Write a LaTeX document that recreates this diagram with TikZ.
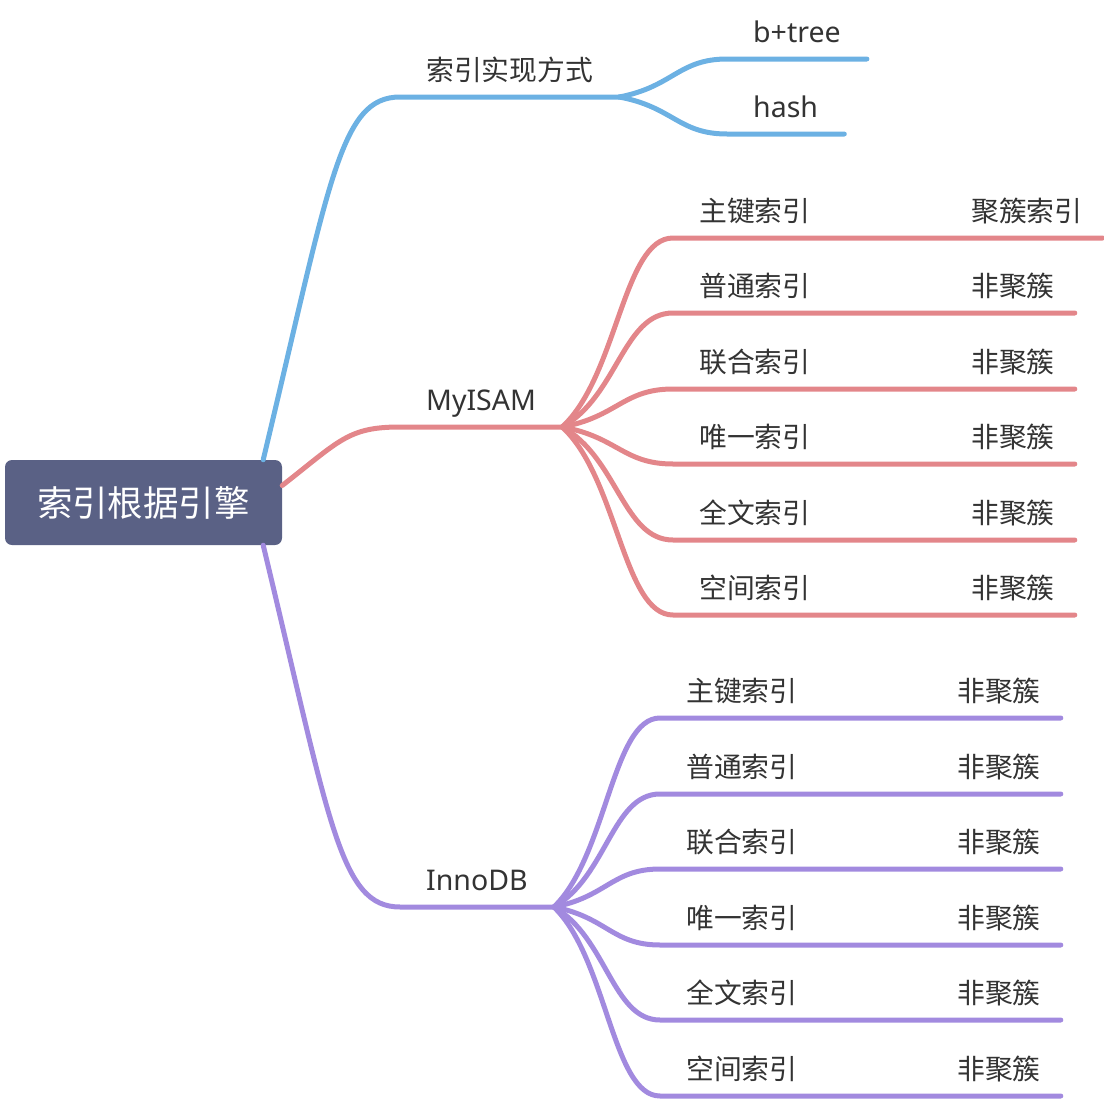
\documentclass[tikz,border=0pt]{standalone}
\usepackage{fontspec}
\setmainfont{Noto Sans CJK SC}
\newfontfamily\latinfont{Noto Sans}
\usetikzlibrary{calc}
\definecolor{rootfill}{HTML}{5A6185}
\definecolor{implblue}{HTML}{6CB1E3}
\definecolor{myred}{HTML}{E3868A}
\definecolor{innopurple}{HTML}{A28ADF}
\definecolor{labeltext}{HTML}{333333}

\begin{document}
\begin{tikzpicture}[
    x=1pt,y=-1pt,
    font=\fontsize{27.8}{32}\selectfont,
    rootbox/.style={rectangle,rounded corners=7pt,fill=rootfill,text=white,minimum width=277pt,minimum height=85pt,font=\fontsize{35.5}{40}\selectfont},
    topic/.style={anchor=south west,inner xsep=26pt,inner ysep=16pt,text depth=0pt,text=labeltext},
    latin/.style={topic,font=\fontsize{28.5}{32}\latinfont},
    leaf/.style={topic,inner xsep=20pt},
    link/.style={line width=5pt,line cap=round},
    swoop/.style={to path={let \p1=(\tikztostart),\p2=(\tikztotarget) in .. controls ({\x1+0.49*(\x2-\x1)},{\y1+0.77*(\y2-\y1)}) and ({\x2-0.44*(\x2-\x1)},\y2) .. (\tikztotarget)}},
    fan/.style={to path={let \p1=(\tikztostart),\p2=(\tikztotarget) in .. controls ({\x1+0.5*(\x2-\x1)},{\y1+0.27*(\y2-\y1)}) and ({\x2-0.45*(\x2-\x1)},\y2) .. (\tikztotarget)}}
  ]
  \useasboundingbox (0,0) rectangle (1104,1100);

  \node(root) [rootbox] at (143.5,502.5) {索引根据引擎};
  \coordinate(rt) at ([xshift=-19pt]root.north east);
  \coordinate(rr) at ([yshift=17pt]root.east);
  \coordinate(rb) at ([xshift=-19pt]root.south east);

  \node(impl) [topic] at (400,97) {索引实现方式};
  \node(bt) [latin] at (727,59) {b+tree};
  \node(hs) [latin] at (727,134) {hash};

  \node(my) [latin] at (400,427) {MyISAM};
  \node(m1) [topic] at (673,238) {主键索引};
  \node(m2) [topic] at (673,313) {普通索引};
  \node(m3) [topic] at (673,389) {联合索引};
  \node(m4) [topic] at (673,464) {唯一索引};
  \node(m5) [topic] at (673,540) {全文索引};
  \node(m6) [topic] at (673,615) {空间索引};
  \node(c1) [leaf] at (951,238) {聚簇索引};
  \node(c2) [leaf] at (951,313) {非聚簇};
  \node(c3) [leaf] at (951,389) {非聚簇};
  \node(c4) [leaf] at (951,464) {非聚簇};
  \node(c5) [leaf] at (951,540) {非聚簇};
  \node(c6) [leaf] at (951,615) {非聚簇};

  \node(inno) [latin] at (400,907) {InnoDB};
  \node(i1) [topic] at (660,718) {主键索引};
  \node(i2) [topic] at (660,794) {普通索引};
  \node(i3) [topic] at (660,869) {联合索引};
  \node(i4) [topic] at (660,945) {唯一索引};
  \node(i5) [topic] at (660,1020) {全文索引};
  \node(i6) [topic] at (660,1096) {空间索引};
  \node(d1) [leaf] at (937,718) {非聚簇};
  \node(d2) [leaf] at (937,794) {非聚簇};
  \node(d3) [leaf] at (937,869) {非聚簇};
  \node(d4) [leaf] at (937,945) {非聚簇};
  \node(d5) [leaf] at (937,1020) {非聚簇};
  \node(d6) [leaf] at (937,1096) {非聚簇};

  \draw[link,implblue] (rt) to[swoop] (impl.south west) -- (impl.south east);
  \draw[link,implblue] (impl.south east) to[fan] (bt.south west) -- (bt.south east);
  \draw[link,implblue] (impl.south east) to[fan] (hs.south west) -- (hs.south east);

  \draw[link,myred] (rr) to[swoop] (my.south west) -- (my.south east);
  \draw[link,myred] (my.south east) to[fan] (m1.south west) -- (m1.south east) -- (c1.south west) -- (c1.south east);
  \draw[link,myred] (my.south east) to[fan] (m2.south west) -- (m2.south east) -- (c2.south west) -- (c2.south east);
  \draw[link,myred] (my.south east) to[fan] (m3.south west) -- (m3.south east) -- (c3.south west) -- (c3.south east);
  \draw[link,myred] (my.south east) to[fan] (m4.south west) -- (m4.south east) -- (c4.south west) -- (c4.south east);
  \draw[link,myred] (my.south east) to[fan] (m5.south west) -- (m5.south east) -- (c5.south west) -- (c5.south east);
  \draw[link,myred] (my.south east) to[fan] (m6.south west) -- (m6.south east) -- (c6.south west) -- (c6.south east);

  \draw[link,innopurple] (rb) to[swoop] (inno.south west) -- (inno.south east);
  \draw[link,innopurple] (inno.south east) to[fan] (i1.south west) -- (i1.south east) -- (d1.south west) -- (d1.south east);
  \draw[link,innopurple] (inno.south east) to[fan] (i2.south west) -- (i2.south east) -- (d2.south west) -- (d2.south east);
  \draw[link,innopurple] (inno.south east) to[fan] (i3.south west) -- (i3.south east) -- (d3.south west) -- (d3.south east);
  \draw[link,innopurple] (inno.south east) to[fan] (i4.south west) -- (i4.south east) -- (d4.south west) -- (d4.south east);
  \draw[link,innopurple] (inno.south east) to[fan] (i5.south west) -- (i5.south east) -- (d5.south west) -- (d5.south east);
  \draw[link,innopurple] (inno.south east) to[fan] (i6.south west) -- (i6.south east) -- (d6.south west) -- (d6.south east);

\end{tikzpicture}
\end{document}
